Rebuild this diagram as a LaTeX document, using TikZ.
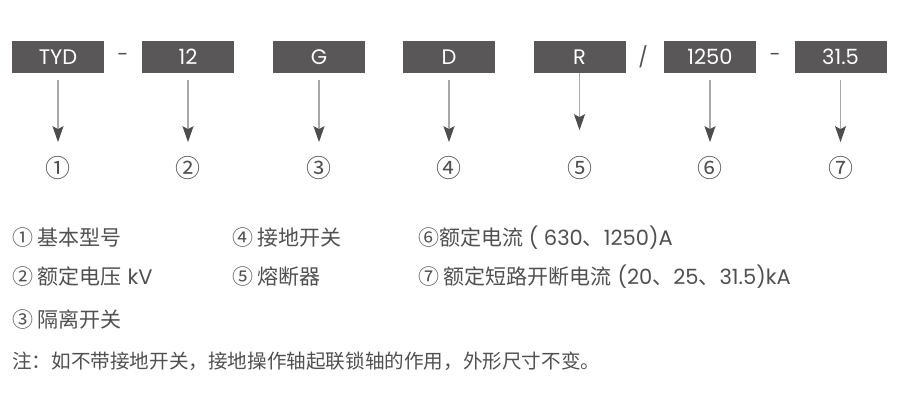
\documentclass[tikz,border=0pt]{standalone}
\usepackage{fontspec}
\setmainfont{Poppins}
\newfontfamily\cjk{Noto Sans CJK SC}
\usetikzlibrary{arrows.meta}
\definecolor{boxgray}{HTML}{595757}
\definecolor{linegray}{HTML}{A8A8A8}
\definecolor{tipgray}{HTML}{4D4D4D}
\definecolor{txtgray}{HTML}{505050}
\tikzset{
  codebox/.style={fill=boxgray, draw=none, minimum width=92pt, minimum height=32pt, inner sep=0pt,
    text=white, font=\fontsize{21}{21}\selectfont},
  sepch/.style={text=txtgray, font=\fontsize{20}{20}\selectfont, inner sep=0pt},
  circnum/.style={text=txtgray, font=\cjk\fontsize{25}{25}\selectfont, inner sep=0pt},
  conn/.style={draw=linegray, line width=1.2pt, -{Stealth[length=16pt, width=11pt, inset=3pt, color=tipgray]}},
  legend/.style={anchor=west, text=txtgray, inner sep=0pt, font=\fontsize{21}{21}\selectfont},
}
\begin{document}
\begin{tikzpicture}[x=1pt, y=-1pt]
\useasboundingbox (0,0) rectangle (901,403);
% code boxes
\node[codebox] (b1) at (58,57) {TYD};
\node[codebox] (b2) at (188,57) {12};
\node[codebox] (b3) at (319,57) {G};
\node[codebox] (b4) at (449,57) {D};
\node[codebox] (b5) at (579.5,57) {R};
\node[codebox] (b6) at (710,57) {1250};
\node[codebox] (b7) at (840.5,57) {31.5};
% separators
\node[sepch] (s1) at (123,57) {-};
\node[sepch] (s2) at (643,57) {/};
\node[sepch] (s3) at (775,57) {-};
% circled numbers
\node[circnum] (c1) at (58,168) {①};
\node[circnum] (c2) at (188,168) {②};
\node[circnum] (c3) at (319,168) {③};
\node[circnum] (c4) at (449,168) {④};
\node[circnum] (c5) at (579.5,168) {⑤};
\node[circnum] (c6) at (710,168) {⑥};
\node[circnum] (c7) at (840.5,168) {⑦};
% connectors
\draw[conn, shorten >=14pt] ([yshift=-7pt]b1.south) -- (c1.north);
\draw[conn, shorten >=14pt] ([yshift=-7pt]b2.south) -- (c2.north);
\draw[conn, shorten >=14pt] ([yshift=-7pt]b3.south) -- (c3.north);
\draw[conn, shorten >=14pt] ([yshift=-7pt]b4.south) -- (c4.north);
\draw[conn, shorten >=26pt] (b5.south) -- (c5.north);
\draw[conn, shorten >=14pt] ([yshift=-7pt]b6.south) -- (c6.north);
\draw[conn, shorten >=14pt] ([yshift=-7pt]b7.south) -- (c7.north);
% legend
\node[legend] (l1) at (12,238) {{\cjk ① 基本型号}};
\node[legend] (l2) at (12,277) {{\cjk ② 额定电压} kV};
\node[legend] (l3) at (12,320) {{\cjk ③ 隔离开关}};
\node[legend] (l4) at (232,238) {{\cjk ④ 接地开关}};
\node[legend] (l5) at (232,277) {{\cjk ⑤ 熔断器}};
\node[legend] (l6) at (418,238) {{\cjk ⑥额定电流} ( 630{\cjk 、}1250)A};
\node[legend] (l7) at (418,277) {{\cjk ⑦ 额定短路开断电流} (20{\cjk 、}25{\cjk 、}31.5)kA};
\node[legend, font=\fontsize{19.6}{19.6}\selectfont] (note) at (12,361) {{\cjk 注：如不带接地开关，接地操作轴起联锁轴的作用，外形尺寸不变。}};
\end{tikzpicture}
\end{document}
